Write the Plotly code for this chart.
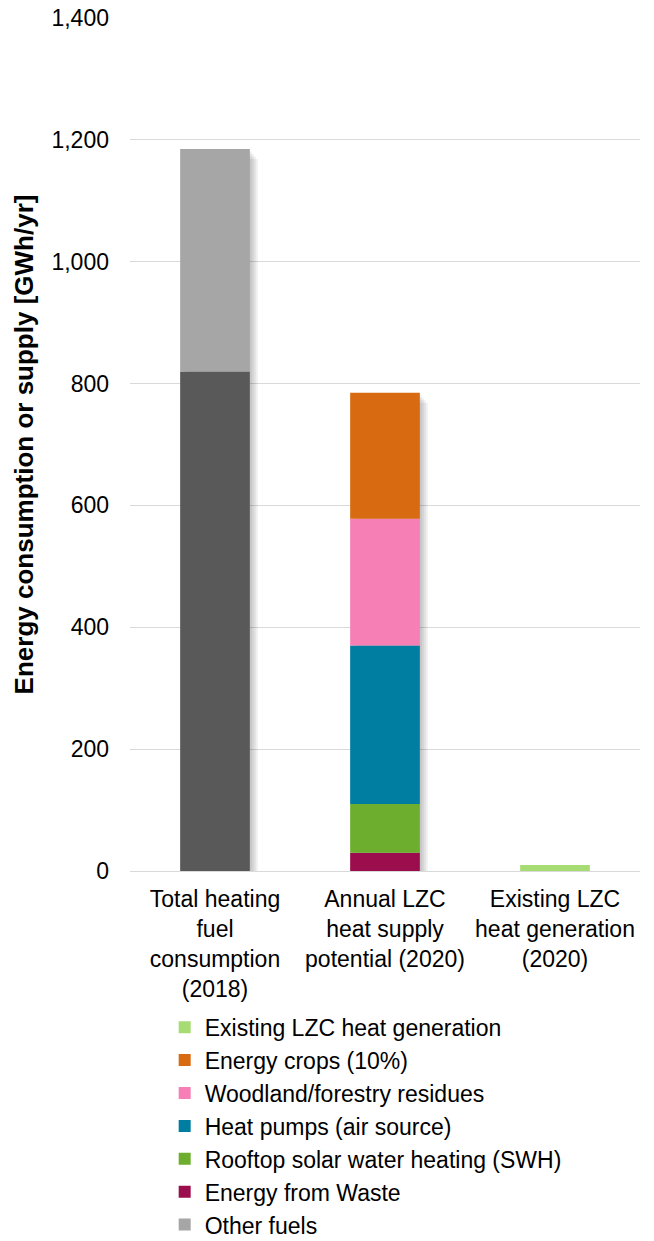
import plotly.graph_objects as go

categories = [
    "Total heating<br>fuel<br>consumption<br>(2018)",
    "Annual LZC<br>heat supply<br>potential (2020)",
    "Existing LZC<br>heat generation<br>(2020)",
]

# Stacked series, bottom to top (GWh/yr)
gas = [820, 0, 0]
other_fuels = [365, 0, 0]
energy_from_waste = [0, 30, 0]
rooftop_swh = [0, 80, 0]
heat_pumps = [0, 260, 0]
woodland = [0, 208, 0]
energy_crops = [0, 207, 0]
existing_lzc = [0, 0, 10]

y_ticks = [0, 200, 400, 600, 800, 1000, 1200, 1400]

series = [
    ("Gas", gas, "#595959", False),
    ("Other fuels", other_fuels, "#A6A6A6", True),
    ("Energy from Waste", energy_from_waste, "#9B0D4C", True),
    ("Rooftop solar water heating (SWH)", rooftop_swh, "#6DAE2E", True),
    ("Heat pumps (air source)", heat_pumps, "#007EA1", True),
    ("Woodland/forestry residues", woodland, "#F67FB6", True),
    ("Energy crops (10%)", energy_crops, "#D86B12", True),
    ("Existing LZC heat generation", existing_lzc, "#A7DC74", True),
]

FONT = "Arial, Liberation Sans, sans-serif"
BAR_W = 0.41
Y_MAX = 1400
PLOT_W_PX = 654 - 130 - 14
PLOT_H_PX = 1241 - 18 - 370
PX_X = len(categories) / PLOT_W_PX      # category units per pixel
PX_Y = Y_MAX / PLOT_H_PX                # value units per pixel

fig = go.Figure()

# Soft drop shadow: a few translucent layers behind each column
totals = [sum(s[1][i] for s in series) for i in range(len(categories))]
for k in range(1, 5):
    fig.add_trace(go.Bar(
        x=categories,
        y=[max(t - 2.5 * k * PX_Y, 0) if t > 20 else 0 for t in totals],
        base=0,
        offset=-BAR_W / 2 + 2 * k * PX_X, width=BAR_W,
        marker=dict(color="rgba(0,0,0,0.06)", line=dict(width=0)),
        showlegend=False, hoverinfo="skip",
    ))

# Stacked columns, each segment sitting on the running total below it
running = [0] * len(categories)
for name, vals, color, show in series:
    fig.add_trace(go.Bar(
        x=categories, y=vals, base=list(running), name=name,
        marker=dict(color=color, line=dict(width=0)),
        showlegend=show, width=BAR_W,
    ))
    running = [r + v for r, v in zip(running, vals)]

fig.update_layout(
    width=654, height=1241,
    barmode="overlay",
    plot_bgcolor="white", paper_bgcolor="white",
    margin=dict(l=130, r=14, t=18, b=370, autoexpand=False),
    font=dict(family=FONT, size=23, color="#000000"),
    xaxis=dict(
        showline=False, ticks="", tickfont=dict(size=23),
        tickangle=0, ticklabelstandoff=12,
    ),
    yaxis=dict(
        range=[0, Y_MAX], tickvals=y_ticks, tickformat=",",
        showgrid=True, gridcolor="#D9D9D9", gridwidth=1,
        zeroline=True, zerolinecolor="#D9D9D9", zerolinewidth=1,
        showline=False, ticks="", ticklabelstandoff=20,
        tickfont=dict(size=23),
        title=dict(text="<b>Energy consumption or supply [GWh/yr]</b>",
                   font=dict(size=26), standoff=10),
    ),
    legend=dict(
        traceorder="reversed", orientation="v",
        x=0.068, xanchor="left", y=-0.158, yanchor="top",
        font=dict(size=23), itemwidth=30, tracegroupgap=0,
        bgcolor="rgba(0,0,0,0)",
    ),
)

fig.write_html("out.html")
